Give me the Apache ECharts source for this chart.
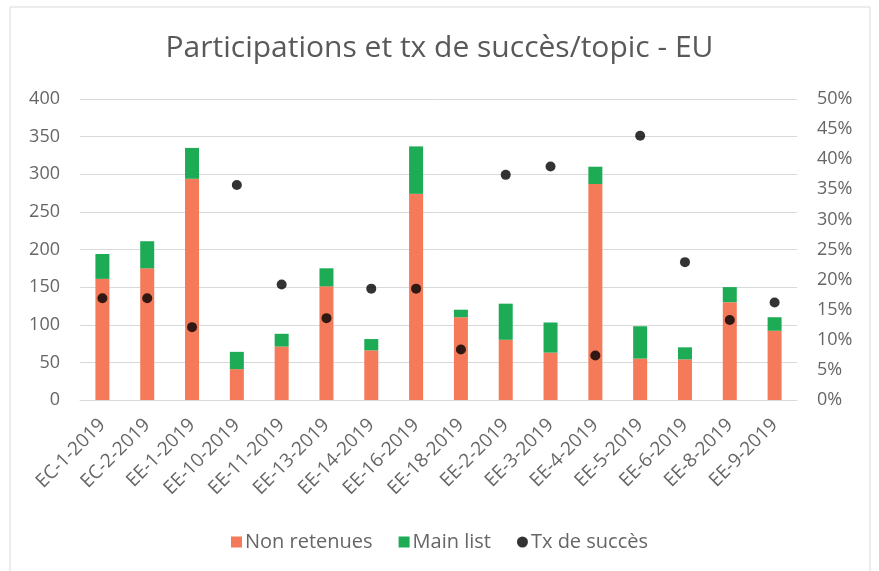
<!DOCTYPE html>
<html>
<head>
<meta charset="utf-8">
<script src="https://cdn.jsdelivr.net/npm/echarts@6/dist/echarts.min.js"></script>
<style>
  html, body { margin: 0; padding: 0; background: #fff; }
  #app { width: 879px; height: 571px; }
</style>
</head>
<body>
<div id="app"></div>
<script>
var topics = ['EC-1-2019', 'EC-2-2019', 'EE-1-2019', 'EE-10-2019', 'EE-11-2019', 'EE-13-2019',
    'EE-14-2019', 'EE-16-2019', 'EE-18-2019', 'EE-2-2019', 'EE-3-2019', 'EE-4-2019',
    'EE-5-2019', 'EE-6-2019', 'EE-8-2019', 'EE-9-2019'];
var nonRetenues = [161, 175, 294, 41, 71, 151, 66, 274, 110, 80, 63, 287, 55, 54, 130, 92];
var mainList = [33, 36, 41, 23, 17, 24, 15, 63, 10, 48, 40, 23, 43, 16, 20, 18];
var txSucces = [16.9, 16.9, 12.1, 35.7, 19.2, 13.6, 18.5, 18.5, 8.4, 37.4, 38.8, 7.4, 43.9, 22.9, 13.3, 16.2];

var txt = '#666666';
var font = '"Open Sans", "Noto Sans", sans-serif';

var myChart = echarts.init(document.getElementById('app'));
var option = {
    backgroundColor: '#fff',
    textStyle: { fontFamily: font },
    title: {
        text: 'Participations et tx de succès/topic - EU',
        left: 'center',
        top: 28,
        textStyle: { color: '#595959', fontSize: 30, fontWeight: 'normal', fontFamily: font }
    },
    graphic: [{
        type: 'rect',
        shape: { x: 10, y: 7, width: 860, height: 570 },
        style: { fill: 'none', stroke: '#d9d9d9', lineWidth: 1 },
        silent: true
    }],
    legend: {
        bottom: 14,
        left: 'center',
        itemWidth: 11,
        itemHeight: 11,
        itemGap: 26,
        textStyle: { color: txt, fontSize: 20, fontFamily: font, padding: [0, 0, 0, -2] },
        data: [
            { name: 'Non retenues', icon: 'rect' },
            { name: 'Main list', icon: 'rect' },
            { name: 'Tx de succès', icon: 'circle' }
        ]
    },
    grid: { left: 80, right: 82, top: 99, bottom: 171 },
    xAxis: {
        type: 'category',
        data: topics,
        axisLine: { lineStyle: { color: '#d9d9d9' } },
        axisTick: { show: false },
        axisLabel: { rotate: 45, color: txt, fontSize: 19, margin: 22, fontFamily: font }
    },
    yAxis: [{
        type: 'value',
        min: 0, max: 400, interval: 50,
        axisLine: { show: false },
        axisTick: { show: false },
        splitLine: { lineStyle: { color: '#d9d9d9' } },
        axisLabel: { color: txt, fontSize: 18, margin: 20, fontFamily: font }
    }, {
        type: 'value',
        min: 0, max: 50, interval: 5,
        axisLine: { show: false },
        axisTick: { show: false },
        splitLine: { show: false },
        axisLabel: { color: txt, fontSize: 18, margin: 20, fontFamily: font, formatter: '{value}%' }
    }],
    series: [{
        name: 'Non retenues',
        type: 'bar',
        stack: 'p',
        barWidth: 14,
        itemStyle: { color: '#F47A5A' },
        data: nonRetenues
    }, {
        name: 'Main list',
        type: 'bar',
        stack: 'p',
        barWidth: 14,
        itemStyle: { color: '#1DAB55' },
        data: mainList
    }, {
        name: 'Tx de succès',
        type: 'scatter',
        yAxisIndex: 1,
        symbolSize: 10,
        itemStyle: { color: '#000' },
        z: 5,
        data: txSucces
    }]
};
myChart.setOption(option);
</script>
</body>
</html>
